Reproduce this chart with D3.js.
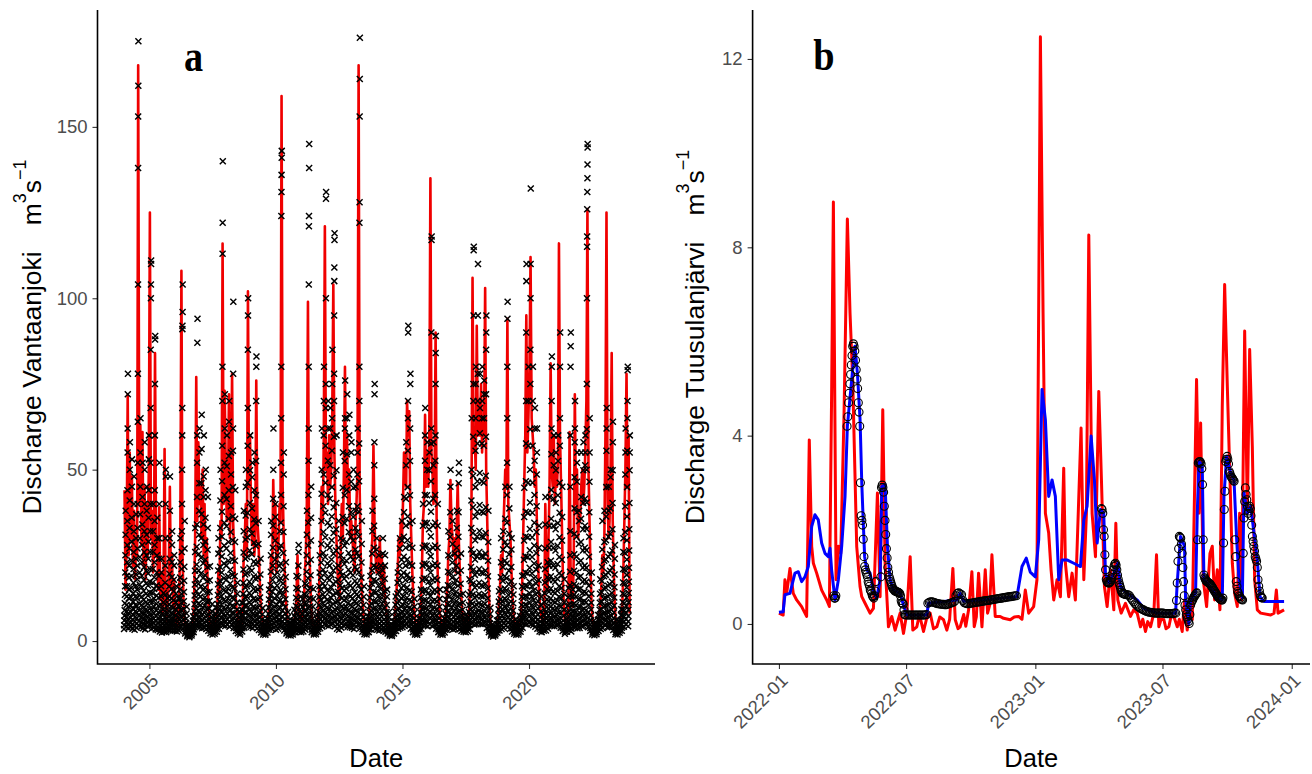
<!DOCTYPE html>
<html><head><meta charset="utf-8">
<script src="https://cdn.jsdelivr.net/npm/d3@7"></script>
<style>body{margin:0;background:#fff}svg{display:block}</style>
</head><body>
<svg id="chart" width="1312" height="774"></svg>
<script>
// ---------------- Panel a: Vantaanjoki ----------------
const yearsA = [2004,2005,2006,2007,2008,2009,2010,2011,2012,2013,2014,2015,2016,2017,2018,2019,2020,2021,2022,2023];
// simulated discharge, two values per month (semi-monthly)
const simA = [
 [44,15,30,72,25,55,30,48,22,38,18,30,25,168,40,63,28,61,22,45,18,40,25,50],
 [125,30,38,20,28,84,25,30,15,39,12,20,8,15,56,10,6,12,20,45,15,25,10,18],
 [8,5,4,6,15,30,108,25,12,6,4,3,2,2,1.5,2,3,5,12,30,77,35,58,40],
 [45,30,50,25,40,20,30,15,10,6,4,3,3,4,3,6,10,20,15,35,30,116,40,73],
 [50,35,40,72,30,45,78,35,25,15,10,8,5,4,3,5,10,25,30,40,25,102,45,60],
 [35,28,40,25,30,76,35,30,20,12,8,6,4,3,3,4,6,10,15,25,20,47,30,40],
 [20,25,30,40,35,159,45,30,20,12,8,5,4,3,2.5,3,4,6,8,12,25,10,8,6],
 [6,8,10,20,25,40,99,30,20,10,6,4,3,3,4,5,10,20,30,45,35,60,121,50],
 [55,40,60,45,50,65,104,55,40,30,20,15,12,25,40,30,50,80,45,60,40,50,30,35],
 [30,25,20,35,40,50,168,45,25,15,10,6,4,3,3,4,8,15,25,30,57,35,25,20],
 [25,20,30,18,25,15,22,12,10,6,4,3,3,2.5,2,4,6,10,15,20,30,25,35,28],
 [40,55,50,45,70,60,67,40,30,20,12,8,5,4,3,4,6,10,20,35,40,66,45,55],
 [45,60,135,55,50,40,45,90,35,20,12,8,6,4,3,4,6,10,15,25,30,47,35,30],
 [25,30,20,35,46,30,20,15,10,6,4,3,3,4,6,10,20,40,106,55,60,50,92,60],
 [70,60,75,55,65,60,103,50,35,20,10,6,4,3,2.5,2,3,4,6,10,15,25,20,30],
 [40,50,45,94,40,35,30,20,12,8,5,4,3,3,4,5,8,15,30,45,60,95,55,65],
 [80,112,65,60,55,45,50,35,25,15,10,8,6,5,8,40,20,15,30,45,81,50,45,60],
 [40,50,45,55,116,60,45,30,15,8,5,4,6,10,61,20,12,10,25,72,40,50,30,35],
 [35,45,50,40,45,55,70,126,50,35,20,10,6,4,3,2.5,3,4,6,10,15,25,20,30],
 [60,125,40,30,35,50,84,35,20,10,5,3,2.5,3,4,6,10,20,35,50,78,45,60,8]
];
// observed discharge: one group per month (Jan..Dec), values within the month
const obsA = [
 "3.5,4.6,6,7.4,9,11,13.5,16,20,25,31,38 4.2,5.5,7,8.6,10.5,13,16,19,23,28,35,44,55,62,72,78 3.8,5.1,6.6,8.2,10,12.5,15,18.5,22,27,33,41,50,58 4,5.3,6.8,8.4,10.4,12.8,15.5,19,23.5,29,36,45,53 3.6,4.8,6.2,7.7,9.4,11.5,14,17,21,26,32,40,48 3.3,4.4,5.6,7,8.6,10.5,13,16,19.5,24,30,37 3.9,5.2,6.7,8.3,10.2,12.5,15,18,22,27,33,40,52,64,78,104,138,153,162,175 4.4,5.8,7.3,9,11,13.5,16.5,20,24.5,30,37,45,55,65 4.1,5.4,6.9,8.5,10.5,12.9,15.7,19,23,28,34,42,52 3.7,5,6.4,8,9.8,12,14.6,17.8,21.6,26,32,40,50,58 3.4,4.6,6,7.5,9.2,11.3,13.8,16.8,20.5,25,31,38,45 4.3,5.7,7.2,8.9,10.9,13.3,16.2,19.7,24,29,36,44,53,60",
 "4.5,6,7.6,9.4,11.6,14.2,17.3,21,26,32,40,52,68,85,100,104,110,111 3.6,4.8,6.1,7.6,9.3,11.4,14,17,21,26,32,40 3.9,5.2,6.6,8.2,10.1,12.4,15.2,18.6,23,28,35,44,60,75,88,89 3.4,4.5,5.8,7.2,8.9,10.9,13.3,16.3,20,25,30,36 3.2,4.2,5.4,6.8,8.4,10.3,12.6,15.4,19,24,30,40,52 2.8,3.6,4.6,5.7,7,8.6,10.5,13,16,20,24 2.5,3.2,4,5,6.1,7.5,9.2,11.3,14 2.7,3.5,4.5,5.6,7,8.7,10.8,13.4,17,22,30,40,48,50 2.6,3.4,4.3,5.4,6.7,8.3,10.2,12.5 3.3,4.4,5.6,7,8.7,10.7,13.1,16,19.6,24,30,38,48 3.1,4.1,5.3,6.6,8.2,10.1,12.4,15.2,18.6,23,28,32 3,4,5.1,6.4,7.9,9.7,11.9,14.6,17.9,22,25",
 "3,3.9,4.9,6.1,7.5,9.2,11.3,13.8,16 2.8,3.6,4.5,5.6,6.9,8.4,10.2,12.5 3.1,4.1,5.2,6.5,8.1,10,12.3,15.1,18.5,23,30 4.2,5.6,7.2,9,11.2,13.8,17,21,26,32,40,50,60,68,91,92,96,104 3.6,4.8,6.1,7.6,9.4,11.6,14.3,17.6,21.7,27,35 2.2,2.8,3.5,4.3,5.3,6.5,8,10 1.4,1.8,2.3,2.8,3.4,4.1,5 1.1,1.5,1.9,2.4,2.9,3.5,4.2 1.6,2.1,2.6,3.2,3.9,4.8,5.9,7.2 2.6,3.4,4.4,5.5,6.9,8.6,10.7,13.3,16.5,20.5,26,33 4.5,6,7.6,9.5,11.8,14.6,18,22.3,27.5,34,42,52,60,87,94 4.1,5.5,7,8.8,10.9,13.5,16.7,20.6,25.4,31,38,46,55,62",
 "4,5.3,6.8,8.5,10.5,13,16,19.7,24.3,30,37,46,56,66 3.7,4.9,6.3,7.9,9.8,12.1,14.9,18.4,22.7,28,34,42,48,60 3.9,5.2,6.6,8.3,10.3,12.7,15.6,19.2,23.7,29,36,44,50 3.5,4.7,6,7.5,9.3,11.5,14.2,17.5,21.6,26.6,33,42 3,3.9,5,6.2,7.7,9.5,11.7,14.4,17.7,21.8 2.3,3,3.8,4.7,5.8,7.1,8.7,10.7 1.9,2.5,3.1,3.9,4.8,5.9,7.2 2.1,2.7,3.4,4.2,5.2,6.4,7.9,9.7 2.7,3.5,4.5,5.6,7,8.7,10.8,13.4,16.6,20.6,25.5,30 3.6,4.8,6.1,7.6,9.4,11.6,14.3,17.6,21.7,26.8,33,41,50 5,6.7,8.5,10.6,13.1,16.2,20,24.7,30.5,37.7,46.6,57,70,80,113,122,140 4.6,6.1,7.8,9.7,12,14.8,18.3,22.6,27.9,34.5,42.6,52,62,72",
 "4.4,5.9,7.5,9.4,11.6,14.4,17.8,22,27,33.5,41.4,51,60 4.7,6.3,8,10,12.4,15.3,18.9,23.4,28.9,35.7,44,54,64,70 4.2,5.6,7.1,8.9,11,13.6,16.8,20.8,25.7,31.8,39.3,48.6,55 4.8,6.4,8.2,10.2,12.6,15.6,19.3,23.8,29.4,36.3,44.9,55.5,62,78,99 3.8,5.1,6.5,8.1,10,12.4,15.3,18.9,23.4,28.9,35.7,44 2.9,3.8,4.8,6,7.4,9.1,11.2,13.8,17 2.3,3,3.8,4.7,5.8,7.1,8.7 1.9,2.5,3.2,4,4.9,6,7.4,9.1,11.2 2.8,3.7,4.7,5.9,7.3,9,11.1,13.7,16.9,20.9,25.8,32,38 3.9,5.2,6.6,8.3,10.3,12.7,15.7,19.4,24,29.6,36.6,45,50 4.9,6.5,8.3,10.4,12.9,16,19.8,24.5,30.3,37.4,46.2,57,68,85,95,100 4.3,5.7,7.3,9.1,11.3,14,17.3,21.4,26.4,32.6,40.3,49.8,60",
 "4.1,5.5,7,8.7,10.8,13.4,16.6,20.5,25.3,31.3,38.7,47.8,52 3.8,5,6.4,8,9.9,12.3,15.2,18.8,23.2,28.7,35.5,44,55 4.5,6,7.7,9.6,11.9,14.7,18.2,22.5,27.8,34.4,42.5,52.5,70,80,83 3.7,4.9,6.3,7.9,9.8,12.1,15,18.5,22.9,28.3,35 3.2,4.2,5.4,6.7,8.3,10.3,12.7,15.7,19.4,24 2.5,3.2,4.1,5.1,6.3,7.8,9.6 1.9,2.5,3.1,3.9,4.8,5.9 1.8,2.3,2.9,3.6,4.4,5.4,6.6 2.5,3.3,4.2,5.2,6.4,7.9,9.8,12.1,15 3.3,4.4,5.6,7,8.7,10.7,13.2,16.3,20.2,25,31,35 3.6,4.8,6.1,7.6,9.4,11.6,14.4,17.8,22,27.2,33.6,41.5,50,62 3.9,5.2,6.6,8.2,10.1,12.5,15.5,19.2,23.7,29.3,36.2,40",
 "3.3,4.4,5.6,7,8.6,10.6,13.1,16.2,20,25 3.6,4.8,6.1,7.6,9.4,11.6,14.3,17.7,21.9,27,32 4.6,6.1,7.8,9.7,12,14.8,18.3,22.6,27.9,34.5,42.6,52,65,80,124,131,136,141,143 4.2,5.6,7.1,8.9,11,13.6,16.8,20.8,25.7,31.8,39.3,48.6,55 3.1,4.1,5.2,6.5,8,9.9,12.2,15.1,18.7,23 2.2,2.8,3.6,4.5,5.6,6.9,8.5 1.7,2.2,2.8,3.5,4.3,5.3 1.6,2.1,2.6,3.2,4,4.9,6 1.9,2.5,3.2,4,4.9,6,7.4,9.1 2.6,3.4,4.3,5.4,6.7,8.3,10.2,12.6,15.5,19 3.1,4.1,5.2,6.5,8,9.9,12.2,15.1,18.6,22,26,28 2.7,3.5,4.5,5.6,6.9,8.5,10.5,12.9",
 "2.6,3.4,4.3,5.3,6.6,8.1,10,12.3 2.8,3.7,4.7,5.8,7.2,8.9,11,13.6,16.8 3.3,4.4,5.6,7,8.7,10.7,13.2,16.3,20.2,25,31,38 4.6,6.1,7.8,9.7,12,14.8,18.3,22.6,27.9,34.5,42.6,52.6,62,80,104,121,124,138,145 3.9,5.2,6.6,8.2,10.1,12.5,15.5,19.2,23.7,29.3,36,45 2.6,3.4,4.3,5.3,6.6,8.1,10,12.3,15.2 1.9,2.4,3,3.7,4.6,5.7 2,2.6,3.3,4.1,5,6.2,7.6 2.7,3.5,4.5,5.6,6.9,8.5,10.5,12.9,16,20,25 3.7,4.9,6.3,7.9,9.8,12.1,15,18.5,22.9,28.3,35,43,50,62 4.2,5.6,7.1,8.9,11,13.6,16.8,20.8,25.7,31.8,39.3,48.6,60,70,80 4.9,6.5,8.3,10.4,12.9,16,19.8,24.5,30.3,37.4,46.2,57,68,75,100,129,131",
 "4.6,6.1,7.8,9.7,12,14.8,18.3,22.6,27.9,34.5,42.6,52.6,62,70 4.4,5.9,7.5,9.4,11.6,14.4,17.8,22,27.2,33.6,41.5,51.3,62,68 4.8,6.4,8.2,10.2,12.6,15.6,19.3,23.8,29.4,36.3,44.9,55.5,65,75,85 5.1,6.8,8.7,10.9,13.5,16.7,20.6,25.5,31.5,39,48.2,59.6,70,78,95,105,109,117,119 4.3,5.7,7.3,9.1,11.3,14,17.3,21.4,26.4,32.6,40.3,49.8,60 3.6,4.8,6.1,7.6,9.4,11.6,14.4,17.8,22,27.2,35 3.3,4.4,5.6,7,8.7,10.7,13.2,16.3,20.2,25,30 3.9,5.2,6.6,8.2,10.1,12.5,15.5,19.2,23.7,29.3,36.2,44.7,55 4.5,6,7.7,9.6,11.9,14.7,18.2,22.5,27.8,34.4,42.5,52.5,62,65,76 4.7,6.3,8,10,12.4,15.3,18.9,23.4,28.9,35.7,44.1,54.5,65,72 4.2,5.6,7.1,8.9,11,13.6,16.8,20.8,25.7,31.8,39.3,48.6,60,66 4,5.3,6.8,8.5,10.5,13,16.1,19.9,24.6,30.4,37.6,46.5,55,58",
 "3.9,5.2,6.6,8.2,10.1,12.5,15.5,19.2,23.7,29.3,36.2,44.7,50 3.5,4.7,6,7.5,9.3,11.5,14.2,17.5,21.6,26.7,33,38,45 4.2,5.6,7.1,8.9,11,13.6,16.8,20.8,25.7,31.8,39.3,48.6,55,62 5,6.7,8.5,10.6,13.1,16.2,20,24.7,30.5,37.7,46.6,57.6,70,80,122,128,153,164,176 3.7,4.9,6.3,7.9,9.8,12.1,15,18.5,22.9,28.3,35 2.7,3.5,4.5,5.6,6.9,8.5,10.5,12.9,16 2,2.6,3.3,4.1,5,6.2 1.9,2.5,3.1,3.9,4.8,5.9,7.3 2.6,3.4,4.3,5.4,6.7,8.3,10.2,12.6,15.5,19 3.4,4.5,5.7,7.1,8.8,10.9,13.5,16.7,20.6,25.5,32,38 4.4,5.9,7.5,9.4,11.6,14.4,17.8,22,27.2,33.6,41.5,51.3,58,72,75 3.5,4.7,6,7.5,9.3,11.5,14.2,17.5,21.6,26.7,30",
 "3.3,4.4,5.6,7,8.6,10.6,13.1,16.2,20,25 3.1,4.1,5.2,6.5,8,9.9,12.2,15.1,18.6,22 3.4,4.5,5.7,7.1,8.8,10.9,13.5,16.7,20.6,25.5,30 3,4,5.1,6.3,7.8,9.6,11.9,14.7,18.2,22,25 2.7,3.5,4.5,5.6,6.9,8.5,10.5,12.9,15 2.2,2.8,3.6,4.5,5.6,6.9,8.5 1.6,2.1,2.6,3.2,4,4.9 1.5,1.9,2.4,3,3.7,4.6,5.6 2.2,2.9,3.7,4.6,5.7,7,8.6,10.6,13 2.9,3.8,4.8,6,7.4,9.1,11.2,13.8,17,20 3.6,4.8,6.1,7.6,9.4,11.6,14.3,17.7,21.9,27,30 3.9,5.2,6.6,8.2,10.1,12.5,15.5,19.2,23.7,29.3,35",
 "4,5.3,6.8,8.5,10.5,13,16.1,19.9,24.6,30.4,37.6,42 4.4,5.9,7.5,9.4,11.6,14.4,17.8,22,27.2,33.6,41.5,51.3,58 4.8,6.4,8.2,10.2,12.6,15.6,19.3,23.8,29.4,36.3,44.9,55.5,65,70,90,92 4.5,6,7.7,9.6,11.9,14.7,18.2,22.5,27.8,34.4,42.5,52.5,62,75,78 3.6,4.8,6.1,7.6,9.4,11.6,14.4,17.8,22,27.2,35 2.6,3.4,4.3,5.3,6.6,8.1,10,12.3 1.9,2.5,3.1,3.9,4.8,5.9 1.8,2.3,2.9,3.6,4.4,5.4,6.6 2.6,3.4,4.3,5.4,6.7,8.3,10.2,12.6,15 3.6,4.8,6.1,7.6,9.4,11.6,14.4,17.8,22,27.2,33.6,40 4.6,6.1,7.8,9.7,12,14.8,18.3,22.6,27.9,34.5,42.6,52.6,60,68 4.5,6,7.7,9.6,11.9,14.7,18.2,22.5,27.8,34.4,42.5,50,58",
 "4.3,5.7,7.3,9.1,11.3,14,17.3,21.4,26.4,32.6,40.3,49.8,55 5,6.7,8.5,10.6,13.1,16.2,20,24.7,30.5,37.7,46.6,57.6,62,90,117,118 4.4,5.9,7.5,9.4,11.6,14.4,17.8,22,27.2,33.6,41.5,51.3,58 4.6,6.1,7.8,9.7,12,14.8,18.3,22.6,27.9,34.5,42.6,52.6,60,75,84,89 3.6,4.8,6.1,7.6,9.4,11.6,14.4,17.8,22,27.2,33.6,40 2.6,3.4,4.3,5.3,6.6,8.1,10,12.3,15 1.9,2.5,3.1,3.9,4.8,5.9 1.8,2.3,2.9,3.6,4.4,5.4,6.6 2.5,3.3,4.2,5.2,6.4,7.9,9.8,12.1,15 3.3,4.4,5.6,7,8.7,10.7,13.2,16.3,20.2,25,32 4,5.3,6.8,8.5,10.5,13,16.1,19.9,24.6,30.4,37.6,45,50 3.7,4.9,6.3,7.9,9.8,12.1,15,18.5,22.9,28.3,35",
 "3.4,4.5,5.7,7.1,8.8,10.9,13.5,16.7,20.6,25.5 3.6,4.8,6.1,7.6,9.4,11.6,14.4,17.8,22,27.2,33,38 4,5.3,6.8,8.5,10.5,13,16.1,19.9,24.6,30.4,37.6,46,49,52 3.4,4.5,5.7,7.1,8.8,10.9,13.5,16.7,20.6,25.5 2.9,3.8,4.8,6,7.4,9.1,11.2,13.8 2.7,3.4,4.2,5.1,6.2,7.5 2.6,3.3,4.1,5,6.1,7.4 2.8,3.6,4.5,5.6,6.9,8.5,10.5,13.4,18 3.5,4.7,6,7.5,9.3,11.5,14.2,17.5,21.6,26.7,33,41,50,65 5.1,6.8,8.7,10.9,13.5,16.7,20.6,25.5,31.5,39,48.2,59.6,70,75,95,114,115 4.8,6.4,8.2,10.2,12.6,15.6,19.3,23.8,29.4,36.3,44.9,55.5,65,75,80 5,6.7,8.5,10.6,13.1,16.2,20,24.7,30.5,37.7,46.6,57.6,70,78,95,110",
 "5.2,6.9,8.8,11,13.7,17,21,26,32.1,39.7,49,60.6,68,78 5,6.7,8.5,10.6,13.1,16.2,20,24.7,30.5,37.7,46.6,57.6,65,70,80 4.9,6.5,8.3,10.4,12.9,16,19.8,24.5,30.3,37.4,46.2,57,65,72,76 5.1,6.8,8.7,10.9,13.5,16.7,20.6,25.5,31.5,39,48.2,59.6,72,85,90,95 3.8,5.1,6.5,8.1,10,12.4,15.3,18.9,23.4,28.9,38 2.6,3.3,4.2,5.2,6.4,7.9,9.7 1.6,2.1,2.6,3.2,4,4.9 1.3,1.7,2.2,2.7,3.3,4 1.6,2.1,2.6,3.2,4,4.9,6 2.4,3.1,3.9,4.9,6.1,7.5,9.3,11.5,14.5 3.1,4.1,5.2,6.5,8,9.9,12.2,15.1,18.6,23,30 3.5,4.7,6,7.5,9.3,11.5,14.2,17.5,21.6,26.7,32",
 "3.8,5.1,6.5,8.1,10,12.4,15.3,18.9,23.4,28.9,35.7,45 4.6,6.1,7.8,9.7,12,14.8,18.3,22.6,27.9,34.5,42.6,52,65,80,94,99 4.1,5.5,7,8.7,10.8,13.4,16.6,20.5,25.3,31.3,38.7,45 3.5,4.7,6,7.5,9.3,11.5,14.2,17.5,21.6,26.7,30 2.8,3.7,4.7,5.8,7.2,8.9,11,13.6,16 2.1,2.7,3.4,4.2,5.2,6.4 1.8,2.3,2.9,3.6,4.4,5.4 1.9,2.5,3.1,3.9,4.8,5.9,7.3 2.7,3.5,4.5,5.6,6.9,8.5,10.5,12.9,16,19 3.9,5.2,6.6,8.2,10.1,12.5,15.5,19.2,23.7,29.3,36.2,44.7 5,6.7,8.5,10.6,13.1,16.2,20,24.7,30.5,37.7,46.6,57.6,70,90,105,110 4.9,6.5,8.3,10.4,12.9,16,19.8,24.5,30.3,37.4,46.2,57,70,80",
 "5.3,7.1,9,11.3,14,17.3,21.4,26.5,32.7,40.4,50,61.8,75,85,100,110,132 4.9,6.5,8.3,10.4,12.9,16,19.8,24.5,30.3,37.4,46.2,57,70,80 4.6,6.1,7.8,9.7,12,14.8,18.3,22.6,27.9,34.5,42.6,52.6,62,68 4.2,5.6,7.1,8.9,11,13.6,16.8,20.8,25.7,31.8,39.3,48.6,55,62 3.6,4.8,6.1,7.6,9.4,11.6,14.4,17.8,22,27.2,33.6 2.8,3.6,4.6,5.7,7,8.6,10.6,13 2.6,3.3,4.1,5.1,6.3,7.7 3,3.9,4.9,6.1,7.5,9.2,11.3,13.9,17.1,21,27,34,42 3.1,4.1,5.2,6.5,8,9.9,12.2,15.1,18.6,23 3.6,4.8,6.1,7.6,9.4,11.6,14.4,17.8,22,27.2,33.6,42 4.7,6.3,8,10,12.4,15.3,18.9,23.4,28.9,35.7,44.1,54.5,62,70,80,83 4.4,5.9,7.5,9.4,11.6,14.4,17.8,22,27.2,33.6,41.5,51.3,60",
 "4.3,5.7,7.3,9.1,11.3,14,17.3,21.4,26.4,32.6,40.3,49.8,55 4.5,6,7.7,9.6,11.9,14.7,18.2,22.5,27.8,34.4,42.5,52.5,60 4.9,6.5,8.3,10.4,12.9,16,19.8,24.5,30.3,37.4,46.2,57,65,80,90 3.9,5.2,6.6,8.2,10.1,12.5,15.5,19.2,23.7,29.3,36.2,45 2.9,3.8,4.8,6,7.4,9.1,11.2,13.8,18 2.1,2.7,3.4,4.2,5.2,6.4 2.7,3.5,4.4,5.5,6.8,8.4,10.4,12.8,15.5 3.3,4.4,5.6,7,8.7,10.7,13.2,16.3,20.2,25,32,45,60,80,86,90 2.8,3.6,4.6,5.7,7,8.6,10.6,13,15 4.1,5.5,7,8.7,10.8,13.4,16.6,20.5,25.3,31.3,38.7,47.8,58,62,70 4,5.3,6.8,8.5,10.5,13,16.1,19.9,24.6,30.4,37.6,46.5,52,55 3.7,4.9,6.3,7.9,9.8,12.1,15,18.5,22.9,28.3,35,38",
 "3.8,5.1,6.5,8.1,10,12.4,15.3,18.9,23.4,28.9,35.7,42,55 4.3,5.7,7.3,9.1,11.3,14,17.3,21.4,26.4,32.6,40.3,49.8,58 4.4,5.9,7.5,9.4,11.6,14.4,17.8,22,27.2,33.6,41.5,51.3,55,60 5.3,7.1,9,11.3,14,17.3,21.4,26.5,32.7,40.4,50,61.8,75,100,115,118,126,131,135,139,144,145 4,5.3,6.8,8.5,10.5,13,16.1,19.9,24.6,30.4,37.6,46.5,55,65 2.9,3.8,4.8,6,7.4,9.1,11.2,13.8,17,20 1.9,2.5,3.1,3.9,4.8,5.9 1.7,2.2,2.7,3.4,4.2,5.1 2,2.6,3.3,4.1,5,6.2,7.6 2.9,3.8,4.8,6,7.4,9.1,11.2,13.8,18 3.5,4.7,6,7.5,9.3,11.5,14.2,17.5,21.6,26.7,35 3.8,5.1,6.5,8.1,10,12.4,15.3,18.9,23.4,28.9,38",
 "4.8,6.4,8.2,10.2,12.6,15.6,19.3,23.8,29.4,36.3,44.9,55.5,62,68 4,5.3,6.8,8.5,10.5,13,16.1,19.9,24.6,30.4,38,45 4.1,5.5,7,8.7,10.8,13.4,16.6,20.5,25.3,31.3,38.7,47.8,50 4.3,5.7,7.3,9.1,11.3,14,17.3,21.4,26.4,32.6,40.3,49.8,58,64 3.2,4.2,5.4,6.7,8.3,10.3,12.7,15.7,19.4,24,28 2,2.6,3.3,4.1,5,6.2 1.9,2.5,3.1,3.9,4.8,5.9 2.4,3.1,3.9,4.9,6.1,7.5,9.3 3,3.9,4.9,6.1,7.5,9.2,11.3,13.9,17.1,21,26,30 4.2,5.6,7.1,8.9,11,13.6,16.8,20.8,25.7,31.8,39.3,48.6,55,62 4.8,6.4,8.2,10.2,12.6,15.6,19.3,23.8,29.4,36.3,44.9,55.5,65,70,79,80 4.3,5.7,7.3,9.1,11.3,14,17.3,21.4,26.4,32.6,40.3,49.8,55,60"
];
const tickYearsA = [2005, 2010, 2015, 2020];
const tickValsA = [0, 50, 100, 150];

// ---------------- Panel b: Tuusulanjärvi (day offset from 2022-01-01, value) ----------------
const simRedB = [[0,0.23],[6,0.19],[8.5,0.94],[11,0.65],[15.7,1.18],[20.4,0.65],[25.2,0.51],[32.3,0.37],[39.4,0.16],[43.2,3.91],[46.6,1.65],[49,1.29],[53.7,1.08],[60.8,0.72],[68,0.51],[71.8,0.37],[75.1,5.05],[77.5,8.96],[81.3,0.94],[84.6,1.65],[88,1.5],[92.7,4.48],[97.4,8.6],[101.2,6.6],[105,5.19],[110.7,1.65],[115.5,0.79],[117.9,0.58],[122.6,0.44],[129.7,0.23],[134.5,0.33],[140.2,2.78],[144,0.58],[147.8,4.55],[151.1,1.29],[155.9,-0.06],[160.6,0.16],[165.4,-0.13],[172.5,0.23],[177.3,-0.2],[182,0.23],[186.8,1.43],[190.6,-0.13],[196.3,-0.06],[200,0.2],[205.8,-0.16],[210,0.1],[215.3,0.23],[220,-0.1],[224.8,-0.06],[229,0.15],[234.3,0.09],[239,-0.13],[243,0.1],[247.6,1.18],[251,0.09],[255,-0.1],[258,-0.06],[263,0.2],[266,-0.05],[270,0.3],[274.7,1.11],[278,-0.06],[281,0.15],[284.2,1.08],[289,-0.06],[293.7,1.15],[297,0.23],[300,0.4],[303.2,1.47],[307.9,0.16],[315,0.16],[319.8,0.12],[329.3,0.09],[335,0.15],[341.2,0.16],[346,0.1],[350.7,0.72],[355.5,0.23],[362.6,0.37],[367.3,0.94],[372.2,12.47],[376,6.6],[379.3,2.35],[384,1.93],[387.4,1.15],[391.2,0.51],[395.9,0.94],[400.7,0.58],[405.4,3.31],[407.8,1.29],[412.5,0.58],[417.3,1.08],[422,0.51],[430.1,4.16],[434,0.94],[437.7,2.35],[441.1,8.26],[445.8,2.35],[450.6,1.43],[455.3,4.94],[459.1,3.06],[463.4,0.79],[467.2,0.37],[472,1.15],[476.7,0.3],[479.6,2.14],[482.4,0.51],[487.2,0.23],[493.3,0.44],[500.5,0.16],[505,0.3],[510,0.23],[514.7,-0.06],[518,0.1],[521.8,-0.16],[525,0.05],[529,-0.06],[533.7,0.23],[537.5,1.47],[540.8,-0.06],[544,0.1],[548,0.09],[551,-0.1],[555.1,-0.06],[558,0.15],[562.2,0.16],[567,-0.06],[570,0.1],[574.1,-0.16],[577.4,0.51],[581.2,-0.13],[584,0.2],[588.4,0.09],[594.5,5.19],[597.9,2.35],[600.3,4.27],[604,0.94],[608.8,0.37],[613.6,1.5],[616.9,1.65],[620.2,0.51],[624,1.15],[627.8,0.3],[631.1,4.62],[634.5,7.21],[638.3,5.05],[642.1,3.06],[645.4,1.29],[648.7,0.65],[652.5,0.37],[655.8,2.35],[658.7,0.51],[663,6.22],[666.8,2.35],[670.1,5.83],[673.9,3.77],[677.2,0.94],[681,0.3],[685.8,0.23],[700,0.19],[704.8,0.23],[708.1,0.72],[710.5,0.23],[719.1,0.3]];
const simBlueB = [[0,0.25],[6,0.26],[8.5,0.62],[15.7,0.65],[22.8,1.08],[27.6,1.11],[32.3,0.9],[37,1.0],[41.8,1.22],[46.6,2.07],[51.3,2.32],[56,2.21],[60.8,1.72],[65.6,1.5],[70.3,1.43],[72.7,1.61],[75,1.15],[79.8,0.51],[84.6,0.94],[89.3,1.65],[94.1,2.71],[97.4,4.2],[103.6,5.19],[108.3,5.9],[111.7,5.33],[115.5,4.34],[117.9,3.0],[120.2,2.1],[122,1.43],[125,1.15],[129.7,1.08],[134.5,0.72],[139.2,0.55],[144,0.94],[146.4,2.92],[151.1,2.96],[154.5,1.65],[158.2,0.94],[163,0.72],[172.5,0.65],[177.3,0.4],[182,0.19],[210.5,0.19],[212.9,0.44],[253.3,0.51],[258,0.65],[262.8,0.48],[338.8,0.58],[346,1.22],[352.1,1.4],[357.8,1.1],[365,1.0],[369.8,1.79],[374.5,4.98],[379.3,4.34],[384,2.71],[388.8,3.06],[393.5,2.71],[398.3,0.94],[403,1.36],[410,1.36],[419.7,1.29],[429.2,1.22],[434,2.21],[438.7,2.5],[444.4,3.99],[449.1,3.06],[453,1.72],[457.7,2.43],[462.4,2.35],[464.8,1.08],[469.6,0.87],[476.7,1.08],[482.4,1.29],[486.2,0.79],[495.7,0.65],[510,0.51],[519.5,0.33],[538.5,0.23],[564.6,0.23],[567,0.87],[571.7,1.86],[577.4,1.65],[578.9,0.51],[583.6,0.01],[586,0.51],[593.1,0.65],[595.5,2.35],[597.9,3.45],[602.6,3.38],[605,0.94],[609.8,0.87],[616.9,0.72],[624,0.58],[631.1,0.51],[633.5,2.71],[637.3,3.56],[643,3.21],[647.8,3.06],[651.6,1.79],[654.9,0.94],[659.7,0.55],[662,2.78],[666.8,2.35],[671.5,2.5],[676.3,1.93],[681,1.36],[684.8,0.58],[690.5,0.48],[719.1,0.48]];
// observed runs: [first day, step in days, values]
const obsRunsB = [
 [78,1,[0.6,0.55,0.55,0.6]],
 [97,1,[4.2,4.4,4.7,4.9,5.1,5.3,5.5,5.7,5.9,5.95,5.9,5.8,5.6,5.4,5.2,5.0,4.7,4.5,4.2,3.0,2.3,2.2,2.1,1.8,1.43,1.22,1.15,1.1,1.05,1.0,0.9,0.85,0.8,0.72,0.7,0.65,0.6,0.58,0.55,0.6,0.7,0.9]],
 [145,1,[1.0,2.9,2.95,2.9,2.8,2.5,2.2,1.9,1.6,1.4,1.2,1.1,1.0,0.95,0.9,0.85,0.8,0.76,0.74,0.72,0.7,0.7,0.69,0.68,0.68,0.67,0.66,0.65,0.6,0.5,0.45,0.44,0.42,0.3,0.2,0.19]],
 [182,2,[0.19,0.19,0.19,0.19,0.19,0.19,0.19,0.19,0.19,0.19,0.19,0.19,0.19,0.19,0.2]],
 [212,2,[0.44,0.46,0.47,0.47,0.46,0.45,0.44,0.43,0.43,0.42,0.42,0.42,0.41,0.41,0.42,0.43,0.44,0.45,0.46,0.48,0.6,0.65,0.66,0.64,0.62,0.5,0.45,0.44,0.43,0.43,0.44,0.44,0.45,0.45,0.46,0.46,0.47,0.47,0.48,0.48,0.49,0.49,0.5,0.5,0.51,0.51,0.52,0.52,0.53,0.53,0.54,0.54,0.55,0.55,0.56,0.56,0.57,0.57,0.58,0.58,0.59,0.59,0.6,0.6]],
 [459,1,[2.45,2.43,2.35,2.0,1.86,1.47,1.15,0.95,0.9,0.88,0.87,0.87,0.88,0.9,0.94,0.98,1.05,1.15,1.22,1.27,1.29,1.25,1.15,1.04,0.95,0.88,0.83,0.78,0.72,0.68,0.65,0.65,0.64,0.63]],
 [493,2,[0.63,0.62,0.62,0.6,0.55,0.51,0.47,0.43,0.4,0.37,0.35,0.33,0.31,0.3,0.28,0.27,0.26,0.25,0.25,0.24,0.24,0.23,0.23,0.23,0.23,0.23,0.23,0.23,0.22,0.22,0.22,0.22,0.22,0.22,0.22,0.23,0.23]],
 [566,1,[0.5,0.87,1.33,1.6,1.86,1.84,1.82,1.7,1.5,1.2,0.9,0.6]],
 [578,1,[0.4,0.3,0.2,0.15,0.1,0.05,0.01,0.2,0.4,0.45,0.5,0.51,0.55,0.58,0.6,0.62,0.65,0.66]],
 [596,1,[1.79,3.42,3.44,3.45,3.44,3.4,3.3,2.96,1.79]],
 [605,1,[1.04,0.98,0.95,0.92,0.9,0.9,0.88,0.87,0.86,0.85,0.82,0.8,0.78,0.75,0.72,0.7,0.68,0.65,0.63,0.6,0.58,0.56,0.55,0.53,0.52,0.51]],
 [631,1,[0.51,0.55,1.72,2.43,2.82,3.45,3.5,3.56,3.5,3.4,3.24,3.2,3.15,3.12,3.1,3.08,3.05,3.03,1.79,1.43,0.9,0.8,0.69,0.65,0.6,0.58,0.55,0.53,0.52,0.51]],
 [661,1,[1.5,2.25,2.6,2.89,2.75,2.64,2.5,2.35,2.4,2.5,2.45,2.3,2.1,1.86,1.75,1.65,1.55,1.43,1.38,1.33,1.2,0.94,0.8,0.7,0.62,0.58,0.56,0.55]]
];
const tickMonthsB = ["2022-01","2022-07","2023-01","2023-07","2024-01"];
const tickValsB = [0, 4, 8, 12];

// ---------------- drawing ----------------
const FONT = "'Liberation Sans', Arial, Helvetica, sans-serif";
const svg = d3.select("#chart");
svg.append("rect").attr("width",1312).attr("height",774).attr("fill","#fff");

const xA = d3.scaleTime().domain([new Date(2002,11,14), new Date(2024,11,23)]).range([97.5, 655]);
const yA = d3.scaleLinear().domain([-6.7, 184.1]).range([664, 10]);
const baseB = new Date(2022,0,1).getTime();
const dayDate = d => new Date(baseB + d*864e5);
const xB = d3.scaleTime().domain([new Date(2021,10,24,12), new Date(2024,0,27)]).range([752.6, 1310]);
const yB = d3.scaleLinear().domain([-0.85, 13.04]).range([664, 10]);

const simPtsA = [], obsPtsA = [];
yearsA.forEach((Y, yi) => {
  simA[yi].forEach((v, k) => simPtsA.push({date: new Date(Y, k >> 1, (k % 2) ? 23 : 8), v}));
  obsA[yi].trim().split(/\s+/).forEach((grp, m) => {
    const vals = grp.split(",").map(Number);
    vals.forEach((v, i) => obsPtsA.push({date: new Date(Y, m, 1 + Math.floor(i * 27 / vals.length)), v}));
  });
});

const gA = svg.append("g");
gA.append("path").datum(simPtsA)
  .attr("fill","none").attr("stroke","#f00000").attr("stroke-width",2.6).attr("stroke-linejoin","round")
  .attr("d", d3.line().x(d => xA(d.date)).y(d => yA(d.v)));
const s = 3;
gA.append("g").selectAll("path").data(obsPtsA).join("path")
  .attr("transform", d => `translate(${xA(d.date).toFixed(2)},${yA(d.v).toFixed(2)})`)
  .attr("d", `M${-s},${-s}L${s},${s}M${-s},${s}L${s},${-s}`)
  .attr("stroke","#000").attr("stroke-width",1.45).attr("fill","none");

const gB = svg.append("g");
gB.append("path").datum(simRedB)
  .attr("fill","none").attr("stroke","#ff0000").attr("stroke-width",3).attr("stroke-linejoin","round")
  .attr("d", d3.line().x(d => xB(dayDate(d[0]))).y(d => yB(d[1])));
gB.append("path").datum(simBlueB)
  .attr("fill","none").attr("stroke","#0000ff").attr("stroke-width",3).attr("stroke-linejoin","round")
  .attr("d", d3.line().x(d => xB(dayDate(d[0]))).y(d => yB(d[1])));
const obsPtsB = [];
obsRunsB.forEach(([start, step, vals]) => vals.forEach((v, i) => obsPtsB.push({d: start + i*step, v})));
gB.append("g").selectAll("circle").data(obsPtsB).join("circle")
  .attr("cx", d => xB(dayDate(d.d))).attr("cy", d => yB(d.v)).attr("r", 4)
  .attr("fill","none").attr("stroke","#000").attr("stroke-width",1.1);

function styleAxis(g){
  g.select(".domain").remove();
  g.selectAll(".tick line").attr("stroke","#333").attr("stroke-width",1.1);
  g.selectAll(".tick text").attr("fill","#4d4d4d").style("font-size","18.5px").style("font-family",FONT);
}
function axisLines(x, y){
  const [x0,x1] = x.range(), [y0,y1] = y.range();
  svg.append("path").attr("d",`M${x0},${y1}V${y0}H${x1}`).attr("fill","none").attr("stroke","#000").attr("stroke-width",1.6);
}
const ayA = svg.append("g").attr("transform",`translate(${xA.range()[0]},0)`)
  .call(d3.axisLeft(yA).tickValues(tickValsA).tickSize(5).tickPadding(5));
styleAxis(ayA);
const axA = svg.append("g").attr("transform",`translate(0,${yA.range()[0]})`)
  .call(d3.axisBottom(xA).tickValues(tickYearsA.map(y => new Date(y,0,1))).tickFormat(d3.timeFormat("%Y")).tickSize(5));
styleAxis(axA);
axA.selectAll(".tick text").attr("x",0).attr("y",0).attr("dy",null)
  .attr("text-anchor","end").attr("dominant-baseline","hanging").attr("transform","translate(0,8) rotate(-45)");
axisLines(xA, yA);

const ayB = svg.append("g").attr("transform",`translate(${xB.range()[0]},0)`)
  .call(d3.axisLeft(yB).tickValues(tickValsB).tickSize(5).tickPadding(5));
styleAxis(ayB);
const axB = svg.append("g").attr("transform",`translate(0,${yB.range()[0]})`)
  .call(d3.axisBottom(xB).tickValues(tickMonthsB.map(m => d3.timeParse("%Y-%m")(m))).tickFormat(d3.timeFormat("%Y-%m")).tickSize(5));
styleAxis(axB);
axB.selectAll(".tick text").attr("x",0).attr("y",0).attr("dy",null)
  .attr("text-anchor","end").attr("dominant-baseline","hanging").attr("transform","translate(0,8) rotate(-45)");
axisLines(xB, yB);

function yTitle(x, name){
  const cy = (yA.range()[0] + yA.range()[1]) / 2;
  const t = svg.append("text").attr("transform",`translate(${x},${cy}) rotate(-90)`)
    .attr("text-anchor","middle").style("font-family",FONT).style("font-size","26.5px").attr("fill","#000");
  t.append("tspan").text("Discharge " + name);
  t.append("tspan").attr("dx","26").text("m");
  t.append("tspan").attr("dy","-15").style("font-size","18px").text("3");
  t.append("tspan").attr("dy","15").text("s");
  t.append("tspan").attr("dy","-15").style("font-size","18px").text("\u22121");
}
yTitle(41, "Vantaanjoki");
yTitle(704, "Tuusulanjärvi");
function xTitle(x){
  const [a,b] = x.range();
  svg.append("text").attr("x",(a+b)/2).attr("y",767).attr("text-anchor","middle")
    .style("font-family",FONT).style("font-size","25.5px").attr("fill","#000").text("Date");
}
xTitle(xA); xTitle(xB);
function panelLabel(x, y, txt){
  svg.append("text").attr("transform",`translate(${x},${y}) scale(0.87,1)`).attr("text-anchor","middle")
    .style("font-family","'Liberation Serif','Times New Roman',serif").style("font-weight","bold").style("font-size","44px")
    .attr("fill","#000").text(txt);
}
panelLabel(193.5, 70.5, "a");
panelLabel(824, 70, "b");
</script>
</body></html>
